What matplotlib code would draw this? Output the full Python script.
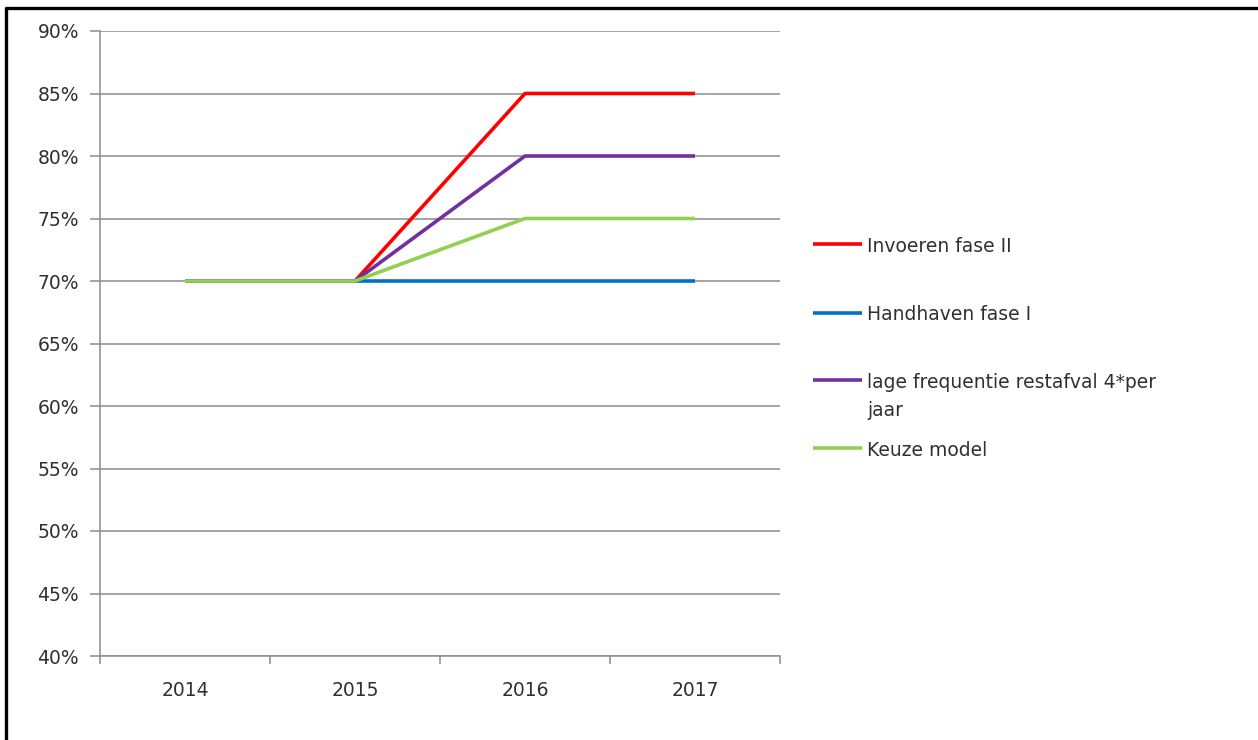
import matplotlib
matplotlib.use("Agg")
import matplotlib.pyplot as plt
from matplotlib.lines import Line2D

years = ["2014", "2015", "2016", "2017"]
invoeren_fase_ii = [70, 70, 85, 85]
handhaven_fase_i = [70, 70, 70, 70]
lage_frequentie = [70, 70, 80, 80]
keuze_model = [70, 70, 75, 75]

series_labels = ["Invoeren fase II", "Handhaven fase I",
                 "lage frequentie restafval 4*per\njaar", "Keuze model"]
series_values = [invoeren_fase_ii, handhaven_fase_i, lage_frequentie, keuze_model]
series_colors = ["#FF0000", "#0070C0", "#7030A0", "#92D050"]

y_ticks = list(range(40, 91, 5))

W, H = 1258, 740
fig = plt.figure(figsize=(W / 100, H / 100), dpi=100)
plt.rcParams['font.family'] = ['DejaVu Sans']

def fx(px):
    return px / W

def fy(py):
    return 1 - py / H

ax = fig.add_axes([fx(100), fy(656), fx(780) - fx(100), fy(31) - fy(656)])
xs = list(range(len(years)))
for vals, col, lab in zip(series_values, series_colors, series_labels):
    ax.plot(xs, vals, color=col, lw=2.6, solid_capstyle='butt', label=lab)

grid_col = '#8c8c8c'
txt_col = '#303030'
ax.set_xlim(-0.5, len(years) - 0.5)
ax.set_ylim(40, 90)
ax.set_yticks(y_ticks)
ax.set_yticklabels([f"{v}%" for v in y_ticks])
ax.yaxis.grid(True, color=grid_col, lw=1.1)
ax.set_axisbelow(True)
ax.set_xticks(xs)
ax.set_xticklabels(years)
ax.set_xticks([i - 0.5 for i in range(len(years) + 1)], minor=True)
ax.tick_params(axis='x', which='major', length=0, pad=18, labelsize=13.5, labelcolor=txt_col)
ax.tick_params(axis='x', which='minor', length=6, width=1.1, color=grid_col, direction='out')
ax.tick_params(axis='y', length=7, width=1.1, color=grid_col, pad=8, labelsize=13.5, labelcolor=txt_col)
for s in ['top', 'right']:
    ax.spines[s].set_visible(False)
for s in ['left', 'bottom']:
    ax.spines[s].set_color(grid_col)
    ax.spines[s].set_linewidth(1.1)

# legend drawn manually to match layout
handle_y = [244, 313, 380, 448]
line_gap = 28
for (lab, col, hy) in zip(series_labels, series_colors, handle_y):
    fig.add_artist(Line2D([fx(813), fx(862)], [fy(hy), fy(hy)], transform=fig.transFigure,
                          color=col, lw=2.6, solid_capstyle='butt'))
    nlines = lab.count("\n") + 1
    fig.text(fx(867), fy(hy + 7.5 + (nlines - 1) * line_gap), lab, ha='left', va='baseline',
             fontsize=13.5, color=txt_col, linespacing=1.6)

# outer border (top and left)
fig.add_artist(Line2D([fx(5), fx(W)], [fy(8), fy(8)], transform=fig.transFigure,
                      color='black', lw=2.4, solid_capstyle='butt'))
fig.add_artist(Line2D([fx(6.5), fx(6.5)], [fy(7), fy(H)], transform=fig.transFigure,
                      color='black', lw=2.4, solid_capstyle='butt'))

fig.savefig("out.png", dpi=100)
